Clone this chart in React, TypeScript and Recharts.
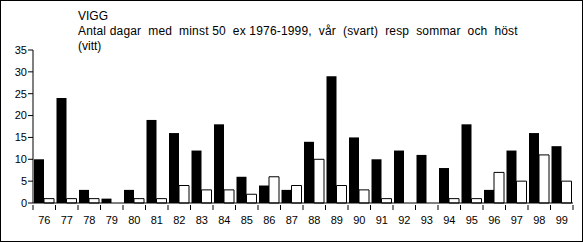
import React from "react";
import {Bar, BarChart, XAxis, YAxis} from "recharts";

// år 1976-1999
const years = ["76", "77", "78", "79", "80", "81", "82", "83", "84", "85", "86", "87",
    "88", "89", "90", "91", "92", "93", "94", "95", "96", "97", "98", "99"];
// vår (svart)
const spring = [10, 24, 3, 1, 3, 19, 16, 12, 18, 6, 4, 3, 14, 29, 15, 10, 12, 11, 8, 18, 3, 12, 16, 13];
// sommar och höst (vitt)
const summerAutumn = [1, 1, 1, 0, 1, 1, 4, 3, 3, 2, 6, 4, 10, 4, 3, 1, 0, 0, 1, 1, 7, 5, 11, 5];
const yTicks = [0, 5, 10, 15, 20, 25, 30, 35];

const data = years.map((y, i) => ({year: y, spring: spring[i], summerAutumn: summerAutumn[i]}));

const font = "'Liberation Sans', Arial, sans-serif";
const band = 540 / years.length;

const YearTick = (props: any) => {
    const {x, y, payload} = props;
    return (
        <g>
            <line x1={x - band / 2} x2={x - band / 2} y1={y - 6} y2={y - 1} stroke="#000"/>
            {payload.index === years.length - 1 &&
                <line x1={x + band / 2} x2={x + band / 2} y1={y - 6} y2={y - 1} stroke="#000"/>}
            <text x={x} y={y + 13} textAnchor="middle" fontSize={11} fontFamily={font} fill="#000">
                {payload.value}
            </text>
        </g>
    );
};

export default function App() {
    return (
        <div style={{position: "absolute", left: 0, top: 0, width: 583, height: 242,
            boxSizing: "border-box", border: "1px solid #000", background: "#fff"}}>
            <div style={{position: "absolute", left: 77, top: 8, fontFamily: font, fontSize: 12,
                lineHeight: "15px", color: "#000", whiteSpace: "pre"}}>
                <div>VIGG</div>
                <div style={{letterSpacing: "0.17px"}}>Antal dagar  med  minst 50  ex 1976-1999,  vår  (svart)  resp  sommar  och  höst</div>
                <div>(vitt)</div>
            </div>
            <BarChart width={581} height={240} data={data} barGap={0} barSize={10}
                      margin={{top: 49, right: 9, left: 0, bottom: 8}}>
                <XAxis dataKey="year" tickLine={false} axisLine={{stroke: "#000"}}
                       height={30} interval={0} tick={<YearTick/>}/>
                <YAxis domain={[0, 35]} ticks={yTicks} width={32} tickSize={5} tickMargin={1}
                       axisLine={{stroke: "#000"}} tickLine={{stroke: "#000"}}
                       tick={{fontSize: 11, fontFamily: font, fill: "#000"}}/>
                <Bar dataKey="spring" fill="#000" isAnimationActive={false}/>
                <Bar dataKey="summerAutumn" fill="#fff" stroke="#000" strokeWidth={1} isAnimationActive={false}/>
            </BarChart>
        </div>
    );
}
